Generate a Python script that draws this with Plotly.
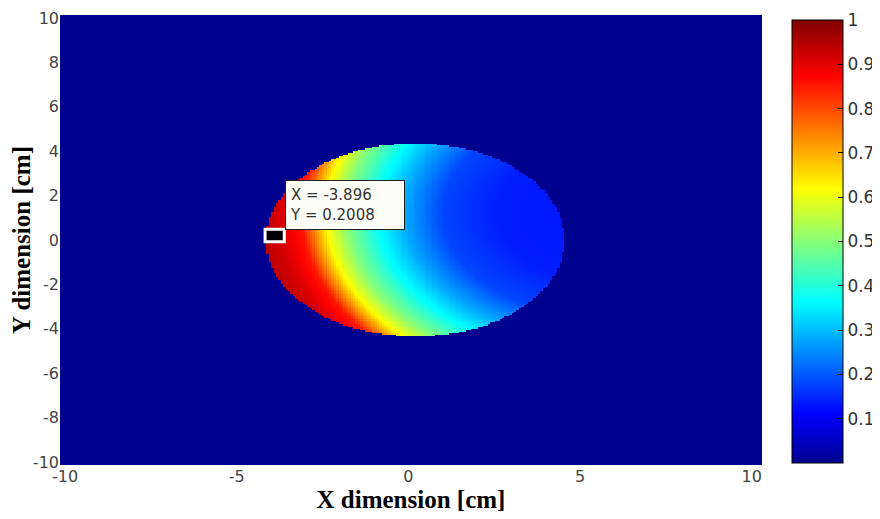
import numpy as np
import plotly.graph_objects as go

# ---- values ----
# region of the illuminated disc (cm)
disc_center = (0.2, 0.0)
disc_radius = 4.35
# point from which the normalised intensity is measured (cm)
ref_point = (5.6, 1.2)
# intensity profile vs distance from ref_point
distance_cm = [0.0, 3.0, 4.6, 5.7, 6.5, 7.4, 8.0, 8.4, 8.7, 9.3, 10.2]
intensity = [0.13, 0.14, 0.18, 0.28, 0.37, 0.50, 0.62, 0.75, 0.85, 0.91, 0.96]
background_value = 0.0

# data cursor
tip_x = -3.896
tip_y = 0.2008

x_ticks = [-10, -5, 0, 5, 10]
y_ticks = [-10, -8, -6, -4, -2, 0, 2, 4, 6, 8, 10]
cb_ticks = [0.1, 0.2, 0.3, 0.4, 0.5, 0.6, 0.7, 0.8, 0.9, 1]
cb_labels = ["0.1", "0.2", "0.3", "0.4", "0.5", "0.6", "0.7", "0.8", "0.9", "1"]

# ---- grid ----
step = 0.07
gx = np.arange(-10.4, 10.45, step)
gy = np.arange(-10.4, 10.45, step)
GX, GY = np.meshgrid(gx, gy)
inside = (GX - disc_center[0]) ** 2 + (GY - disc_center[1]) ** 2 <= disc_radius ** 2
dist = np.hypot(GX - ref_point[0], GY - ref_point[1])
Z = np.where(inside, np.interp(dist, distance_cm, intensity), background_value)

jet = [
    [0.0, "rgb(0,0,143)"],
    [0.111, "rgb(0,0,255)"],
    [0.365, "rgb(0,255,255)"],
    [0.619, "rgb(255,255,0)"],
    [0.873, "rgb(255,0,0)"],
    [1.0, "rgb(128,0,0)"],
]

# page has an 8px body margin, so the figure is laid out 8px up/left
OFF = 8
W, H = 880 - OFF, 519 - OFF
plot_l, plot_r, plot_t, plot_b = 60 - OFF, 762 - OFF, 15 - OFF, 465 - OFF
cb_l, cb_t, cb_b = 792 - OFF, 20 - OFF, 463 - OFF
ml, mr, mt, mb = plot_l, 0, plot_t, H - plot_b
pw = W - ml - mr
ph = H - mt - mb

fig = go.Figure()
fig.add_trace(go.Heatmap(
    x=gx, y=gy, z=Z, colorscale=jet, zmin=0, zmax=1,
    hoverinfo="skip",
    colorbar=dict(
        x=(cb_l - ml) / pw, xanchor="left", xpad=0,
        y=(plot_b - (cb_t + cb_b) / 2) / ph, yanchor="middle", ypad=0,
        len=(cb_b - cb_t) / ph, lenmode="fraction",
        thickness=51, thicknessmode="pixels",
        outlinewidth=1, outlinecolor="black",
        tickvals=cb_ticks, ticktext=cb_labels,
        ticks="inside", ticklen=5, tickcolor="black", tickwidth=1,
        tickfont=dict(family="DejaVu Sans", size=17, color="#333333"),
    ),
))

# data cursor marker
fig.add_shape(type="rect", xref="x", yref="y",
              x0=tip_x - 0.28, x1=tip_x + 0.28, y0=tip_y - 0.28, y1=tip_y + 0.28,
              fillcolor="black", line=dict(color="white", width=3))
fig.add_annotation(
    x=tip_x, y=tip_y, xref="x", yref="y",
    text="X = %.3f<br>Y = %.4f" % (tip_x, tip_y),
    showarrow=False, xanchor="left", yanchor="bottom", xshift=10, yshift=6,
    align="left", width=110, height=40, borderpad=4,
    bgcolor="#fdfdf8", bordercolor="#222222", borderwidth=1,
    font=dict(family="DejaVu Sans", size=15, color="#333333"),
)

fig.update_layout(
    width=W, height=H,
    margin=dict(l=ml, r=mr, t=mt, b=mb, autoexpand=False),
    paper_bgcolor="white", plot_bgcolor="white",
    xaxis=dict(
        domain=[0, (plot_r - ml) / pw], range=[-10.15, 10.3], automargin=False,
        tickvals=x_ticks, ticktext=[str(v) for v in x_ticks],
        showgrid=False, zeroline=False, ticks="", showline=False,
        tickfont=dict(family="DejaVu Sans", size=16, color="#444444"),
        title=dict(text="<b>X dimension [cm]</b>", standoff=0,
                   font=dict(family="Liberation Serif", size=25, color="black")),
    ),
    yaxis=dict(
        range=[-10.135, 10.135], automargin=False,
        tickvals=y_ticks, ticktext=[str(v) for v in y_ticks],
        showgrid=False, zeroline=False, ticks="", showline=False,
        tickfont=dict(family="DejaVu Sans", size=16, color="#444444"),
        title=dict(text="<b>Y dimension [cm]</b>", standoff=4,
                   font=dict(family="Liberation Serif", size=25, color="black")),
    ),
)

fig.write_html("out.html")
